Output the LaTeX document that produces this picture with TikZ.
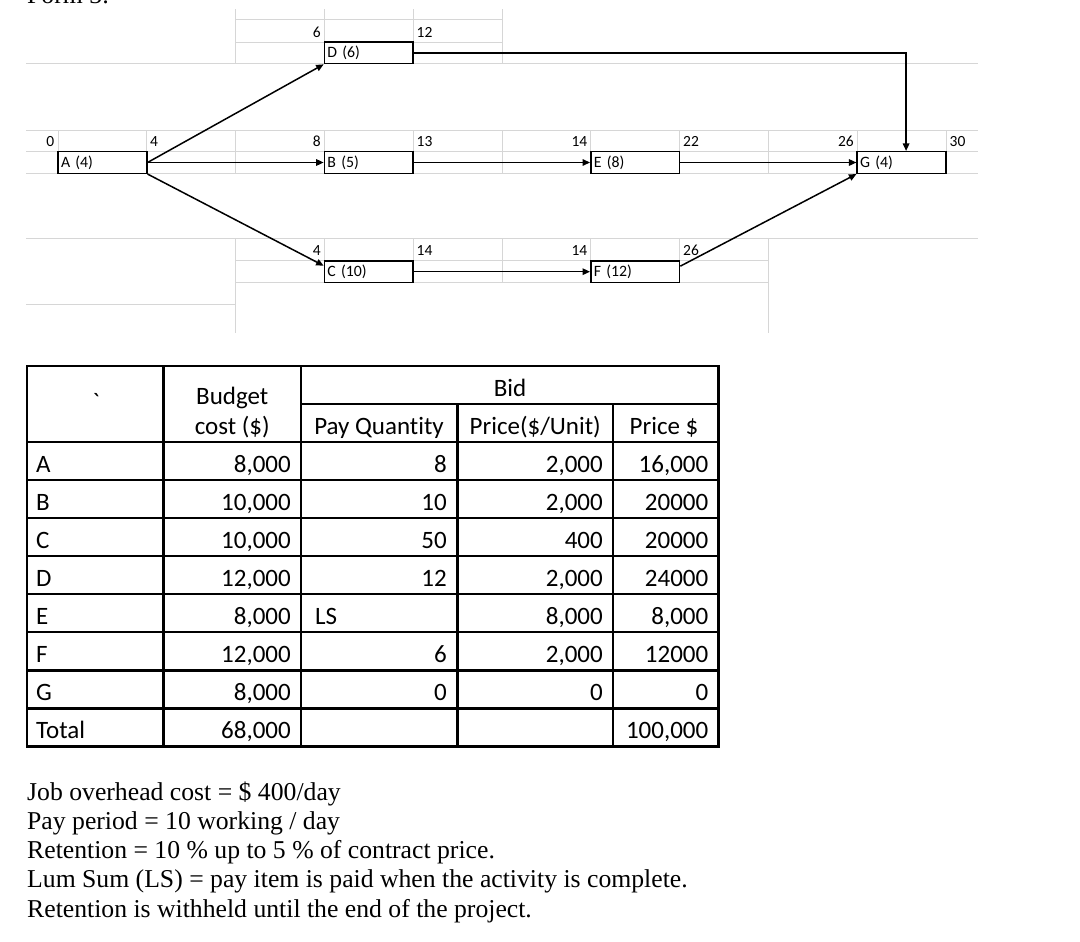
\documentclass[tikz,border=0pt]{standalone}
\usepackage{fontspec}
\setmainfont{Liberation Serif}
\newfontfamily\calibri{Carlito}[Ligatures=NoCommon]
\usetikzlibrary{arrows.meta}
\definecolor{gridgray}{RGB}{214,214,214}
\newcommand\tabrow[7]{%
  \node[tcell,anchor=base west] (r#1a) at (36,#7) {#2};
  \node[tcell,anchor=base east] (r#1b) at (291,#7) {#3};
  \node[tcell,anchor=base east] (r#1c) at (447,#7) {#4};
  \node[tcell,anchor=base east] (r#1d) at (603,#7) {#5};
  \node[tcell,anchor=base east] (r#1e) at (708.5,#7) {#6};
}
\begin{document}
\begin{tikzpicture}[x=1pt,y=-1pt,
  xlgrid/.style={draw=gridgray,line width=1pt},
  actbox/.style={draw=black,line width=1.5pt,fill=white,minimum width=88.8pt,minimum height=21.6pt,
     inner xsep=3pt,inner ysep=0pt,text width=82.8pt,align=left,font=\calibri\fontsize{15.8}{16}\selectfont},
  numlbl/.style={inner sep=0pt,font=\calibri\fontsize{15.5}{16}\selectfont},
  conn/.style={draw=black,line width=1.5pt,-{Triangle[length=7.5pt,width=6.5pt]}},
  tline/.style={draw=black,line width=2.2pt},
  tcell/.style={inner sep=0pt,font=\calibri\fontsize{25}{28}\selectfont},
  note/.style={inner sep=0pt,align=left,font=\fontsize{25.7}{29.2}\selectfont}]
\useasboundingbox (0,0) rectangle (1080,942);
\clip (0,0) rectangle (1080,942);
\fill[white] (0,0) rectangle (1080,942);

% cut-off title
\node[note,anchor=base west] (title) at (27,4) {Form 3:};

% ---------- spreadsheet grid ----------
% top block
\draw[xlgrid] (236,20) -- (502,20);
\draw[xlgrid] (236,42.3) -- (502,42.3);
\draw[xlgrid] (26,63.3) -- (978,63.3);
\foreach \x in {235.6,324.4,413.2,502} \draw[xlgrid] (\x,9.3) -- (\x,63.3);
% row B block
\foreach \y in {130,151.7,173.3} \draw[xlgrid] (26,\y) -- (978,\y);
\foreach \x in {58,146.8,235.6,324.4,413.2,502,590.8,679.6,768.4,857.2,946} \draw[xlgrid] (\x,130) -- (\x,173.3);
% row C block
\draw[xlgrid] (26,238.7) -- (978,238.7);
\draw[xlgrid] (235.6,260.7) -- (768.4,260.7);
\draw[xlgrid] (235.6,282.7) -- (768.4,282.7);
\draw[xlgrid] (26,304.3) -- (235.6,304.3);
\draw[xlgrid] (235.6,238.7) -- (235.6,333);
\draw[xlgrid] (768.4,238.7) -- (768.4,333);
\foreach \x in {324.4,413.2,502,590.8,679.6} \draw[xlgrid] (\x,238.7) -- (\x,282.7);

% ---------- activity boxes ----------
\node[actbox] (A) at (102.4,162.5) {A (4)};
\node[actbox] (D) at (368.8,52.8) {D (6)};
\node[actbox] (B) at (368.8,162.5) {B (5)};
\node[actbox] (C) at (368.8,271.7) {C (10)};
\node[actbox] (E) at (635.2,162.5) {E (8)};
\node[actbox] (F) at (635.2,271.7) {F (12)};
\node[actbox] (G) at (901.6,162.5) {G (4)};

% ---------- time labels ----------
\node[numlbl,anchor=east] (esD) at (321,32.5) {6};
\node[numlbl,anchor=west] (efD) at (416.5,32.5) {12};
\node[numlbl,anchor=east] (esA) at (54.5,141.7) {0};
\node[numlbl,anchor=west] (efA) at (150,141.7) {4};
\node[numlbl,anchor=east] (esB) at (321,141.7) {8};
\node[numlbl,anchor=west] (efB) at (416.5,141.7) {13};
\node[numlbl,anchor=east] (esE) at (587.5,141.7) {14};
\node[numlbl,anchor=west] (efE) at (683,141.7) {22};
\node[numlbl,anchor=east] (esG) at (854,141.7) {26};
\node[numlbl,anchor=west] (efG) at (949.5,141.7) {30};
\node[numlbl,anchor=east] (esC) at (321,250.7) {4};
\node[numlbl,anchor=west] (efC) at (416.5,250.7) {14};
\node[numlbl,anchor=east] (esF) at (587.5,250.7) {14};
\node[numlbl,anchor=west] (efF) at (683,250.7) {26};

% ---------- connectors ----------
\draw[conn] (A.east) -- (D.south west);
\draw[conn] (A.east) -- (B.west);
\draw[conn] (A.south east) -- ([yshift=6pt]C.west);
\draw[conn] (B.east) -- (E.west);
\draw[conn] (C.east) -- (F.west);
\draw[conn] (E.east) -- (G.west);
\draw[conn] (D.east) -| ([xshift=4.5pt]G.north);
\draw[conn] ([yshift=-6pt]F.north east) -- (G.south west);

% ---------- table ----------
\draw[tline] (27,366) rectangle (718.5,746.5);
\foreach \x in {163.5,301} \draw[tline] (\x,366) -- (\x,746.5);
\foreach \x in {457.5,613} \draw[tline] (\x,404) -- (\x,746.5);
\draw[tline] (301,404) -- (718.5,404);
\foreach \y in {442,480,518,556,594,632,670.5,708.5} \draw[tline] (27,\y) -- (718.5,\y);

\node[tcell,anchor=base] (hq) at (96,410) {\textasciigrave};
\node[tcell,anchor=base] (hb1) at (232.3,404) {Budget};
\node[tcell,anchor=base] (hb2) at (232.3,434.5) {cost (\$)};
\node[tcell,anchor=base] (hbid) at (510,396.7) {Bid};
\node[tcell,anchor=base] (hpq) at (379,434.5) {Pay Quantity};
\node[tcell,anchor=base] (hpu) at (535.2,434.5) {Price(\$/Unit)};
\node[tcell,anchor=base] (hps) at (664,434.5) {Price \$};

\tabrow{1}{A}{8,000}{8}{2,000}{16,000}{472.2}
\tabrow{2}{B}{10,000}{10}{2,000}{20000}{510.2}
\tabrow{3}{C}{10,000}{50}{400}{20000}{548.2}
\tabrow{4}{D}{12,000}{12}{2,000}{24000}{586.2}
\tabrow{5}{E}{8,000}{}{8,000}{8,000}{624.2}
\node[tcell,anchor=base west] (r5ls) at (315,624.2) {LS};
\tabrow{6}{F}{12,000}{6}{2,000}{12000}{662.5}
\tabrow{7}{G}{8,000}{0}{0}{0}{700.7}
\tabrow{8}{Total}{68,000}{}{}{100,000}{738.7}

% ---------- notes ----------
\node[note,anchor=north west] (notes) at (27,781.5) {Job overhead cost = \$ 400/day\\
Pay period = 10 working / day\\
Retention = 10 \% up to 5 \% of contract price.\\
Lum Sum (LS) = pay item is paid when the activity is complete.\\
Retention is withheld until the end of the project.};
\end{tikzpicture}
\end{document}
